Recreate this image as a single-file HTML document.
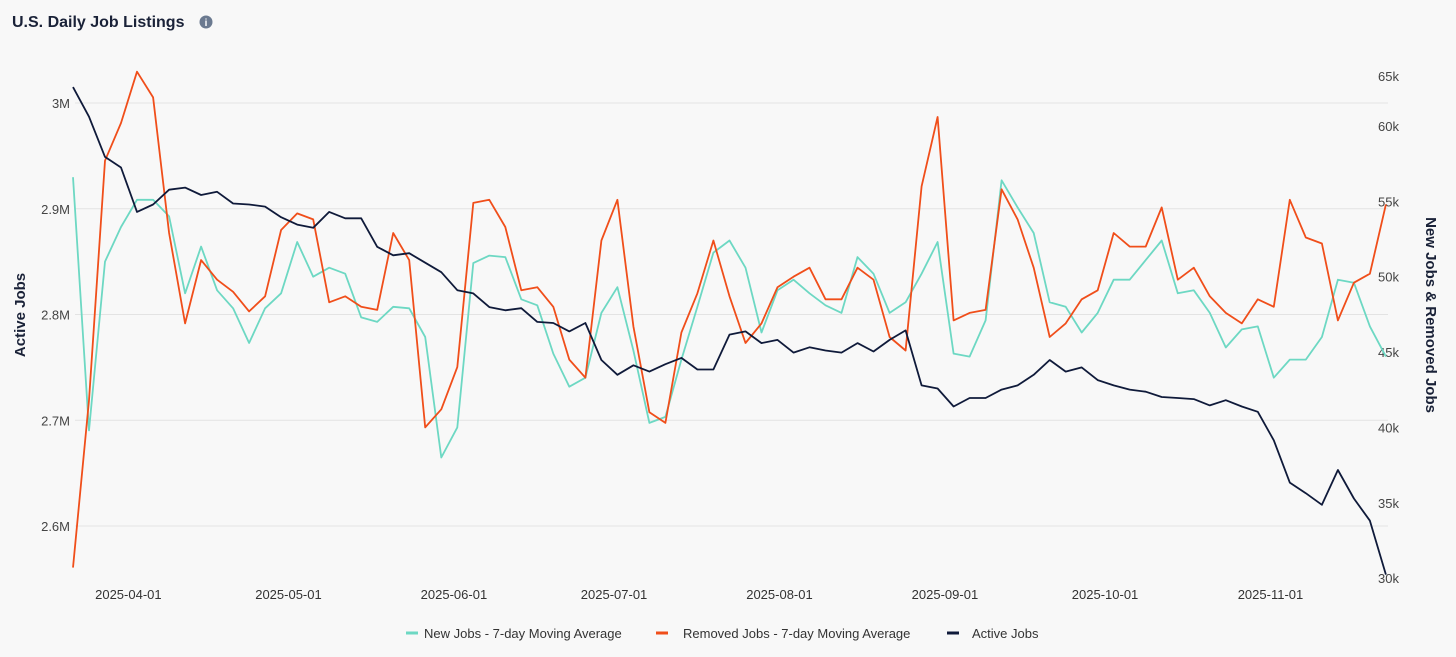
<!DOCTYPE html>
<html><head><meta charset="utf-8"><style>
html,body{margin:0;padding:0;background:#f8f8f8;}
body{width:1456px;height:652px;overflow:hidden;font-family:"Liberation Sans",sans-serif;}
svg text{font-family:"Liberation Sans",sans-serif;}
</style></head><body>
<svg id="chart" width="1456" height="652">
  <text x="12" y="27" font-size="16" font-weight="bold" fill="#1a2238">U.S. Daily Job Listings</text>
  <g>
    <circle cx="206" cy="22" r="6.5" fill="#6b7a90"/>
    <text x="206" y="26" font-size="10" font-weight="bold" fill="#fff" text-anchor="middle">i</text>
  </g>
  <g id="grid"></g>
  <g id="yl"></g>
  <g id="yr"></g>
  <g id="xl"></g>
  <g id="series"></g>
  <text transform="translate(25,315) rotate(-90)" font-size="15" font-weight="bold" fill="#1a2238" text-anchor="middle">Active Jobs</text>
  <text transform="translate(1426,315) rotate(90)" font-size="15" font-weight="bold" fill="#1a2238" text-anchor="middle">New Jobs &amp; Removed Jobs</text>
  <g font-size="13" fill="#333">
    <g><line x1="406" y1="633" x2="418" y2="633" stroke="#6dd8c3" stroke-width="3"/><text x="424" y="638">New Jobs - 7-day Moving Average</text></g>
    <g><line x1="656" y1="633" x2="668" y2="633" stroke="#f04e1a" stroke-width="3"/><text x="683" y="638">Removed Jobs - 7-day Moving Average</text></g>
    <g><line x1="947" y1="633" x2="959" y2="633" stroke="#0f1a3a" stroke-width="3"/><text x="972" y="638">Active Jobs</text></g>
  </g>
</svg>
<script>
// days since 2025-03-22, sampled every 3 days
const activeJobs = [3.015,2.987,2.949,2.939,2.897,2.904,2.918,2.920,2.913,2.916,2.905,2.904,2.902,2.892,2.885,2.882,2.897,2.891,2.891,2.864,2.856,2.858,2.849,2.840,2.823,2.820,2.807,2.804,2.806,2.793,2.792,2.784,2.792,2.757,2.743,2.752,2.746,2.753,2.759,2.748,2.748,2.781,2.784,2.773,2.776,2.764,2.769,2.766,2.764,2.773,2.765,2.776,2.785,2.733,2.730,2.713,2.721,2.721,2.729,2.733,2.743,2.757,2.746,2.750,2.738,2.733,2.729,2.727,2.722,2.721,2.720,2.714,2.719,2.713,2.708,2.681,2.641,2.631,2.620,2.653,2.626,2.605,2.554];
const newJobs = [56.6,39.8,51.0,53.3,55.1,55.1,54.0,48.9,52.0,49.1,47.9,45.6,47.9,48.9,52.3,50.0,50.6,50.2,47.3,47.0,48.0,47.9,46.0,38.0,40.0,50.9,51.4,51.3,48.5,48.1,44.9,42.7,43.3,47.6,49.3,45.1,40.3,40.7,44.5,48.0,51.6,52.4,50.6,46.3,49.1,49.8,48.9,48.1,47.6,51.3,50.2,47.6,48.3,50.2,52.3,44.9,44.7,47.1,56.4,54.6,52.9,48.3,48.0,46.3,47.6,49.8,49.8,51.1,52.4,48.9,49.1,47.6,45.3,46.5,46.7,43.3,44.5,44.5,46.0,49.8,49.6,46.7,44.7];
const removedJobs = [30.7,41.8,57.7,60.2,63.6,61.9,52.9,46.9,51.1,49.8,49.0,47.7,48.7,53.1,54.2,53.8,48.3,48.7,48.0,47.8,52.9,51.1,40.0,41.2,44.0,54.9,55.1,53.3,49.1,49.3,48.0,44.5,43.3,52.4,55.1,46.7,41.0,40.3,46.3,48.9,52.4,48.7,45.6,46.9,49.3,50.0,50.6,48.5,48.5,50.6,49.8,46.0,45.1,56.0,60.6,47.1,47.6,47.8,55.8,53.8,50.6,46.0,46.9,48.5,49.1,52.9,52.0,52.0,54.6,49.8,50.6,48.7,47.6,46.9,48.5,48.0,55.1,52.6,52.2,47.1,49.6,50.2,54.8];
const stepDays = 3;
const leftTicks = [3.0,2.9,2.8,2.7,2.6];
const leftTickLabels = ["3M","2.9M","2.8M","2.7M","2.6M"];
const rightTicks = [60,55,50,45,40,35,30];
const rightTickLabels = ["60k","55k","50k","45k","40k","35k","30k"];
const xTickDays = [10,40,71,101,132,163,193,224];
const xTickLabels = ["2025-04-01","2025-05-01","2025-06-01","2025-07-01","2025-08-01","2025-09-01","2025-10-01","2025-11-01"];

const NS="http://www.w3.org/2000/svg";
const xS = d => 73 + d*5.337;
const yL = v => 103 + (3.0 - v)*1057.5;
const yR = v => 126 + (60 - v)*15.07;
function mk(tag, attrs, parent){const e=document.createElementNS(NS,tag);for(const k in attrs)e.setAttribute(k,attrs[k]);parent.appendChild(e);return e;}
const grid=document.getElementById('grid'), yl=document.getElementById('yl'), yr=document.getElementById('yr'), xl=document.getElementById('xl'), ser=document.getElementById('series');

leftTicks.forEach((v,i)=>{
  const y=yL(v);
  const g=mk('line',{x1:75,x2:1388,y1:y,y2:y,stroke:'#e3e3e3','stroke-width':1},grid);
  
  
  const t=mk('text',{x:70,y:y+5,'font-size':13,fill:'#444','text-anchor':'end'},yl);
  t.textContent=leftTickLabels[i];
  
  
});
const t65=mk('text',{x:1378,y:81,'font-size':13,fill:'#444'},yr);
t65.textContent="65k";


rightTicks.forEach((v,i)=>{
  const t=mk('text',{x:1378,y:yR(v)+5,'font-size':13,fill:'#444'},yr);
  t.textContent=rightTickLabels[i];
  
  
});
xTickDays.forEach((d,i)=>{
  const t=mk('text',{x:xS(d)+2,y:599,'font-size':13,fill:'#333','text-anchor':'middle'},xl);
  t.textContent=xTickLabels[i];
  
  
});
function line(arr, yf, color, name){
  const pts=arr.map((v,i)=>xS(i*stepDays).toFixed(1)+','+yf(v).toFixed(1)).join(' ');
  const p=mk('polyline',{points:pts,fill:'none',stroke:color,'stroke-width':1.8,'stroke-linejoin':'round'},ser);
  
  
}
line(newJobs,yR,'#6dd8c3','new-jobs-line');
line(removedJobs,yR,'#f04e1a','removed-jobs-line');
line(activeJobs,yL,'#0f1a3a','active-jobs-line');
</script>
</body></html>
